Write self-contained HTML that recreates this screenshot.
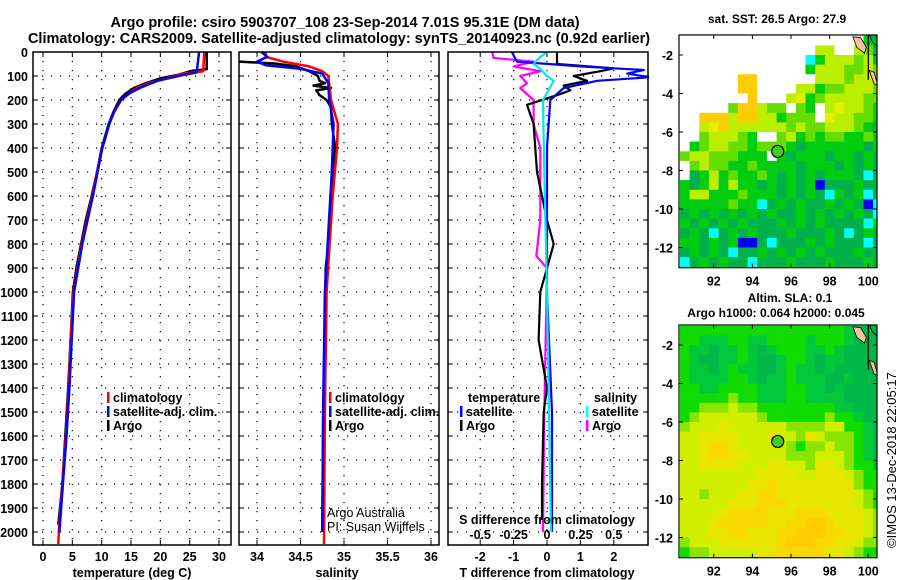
<!DOCTYPE html>
<html><head><meta charset="utf-8"><style>
html,body{margin:0;padding:0;background:#fff;}
svg{display:block;font-family:"Liberation Sans",sans-serif;}
.b{font-weight:bold;}
</style></head><body>
<svg id="c" width="900" height="580" viewBox="0 0 900 580" xmlns="http://www.w3.org/2000/svg">
<text x="345" y="27" text-anchor="middle" class="b" font-size="14.5">Argo profile: csiro 5903707_108 23-Sep-2014 7.01S 95.31E (DM data)</text>
<text x="339" y="43" text-anchor="middle" class="b" font-size="14.5">Climatology: CARS2009. Satellite-adjusted climatology: synTS_20140923.nc (0.92d earlier)</text>
<text x="777" y="23" text-anchor="middle" class="b" font-size="12">sat. SST: 26.5 Argo: 27.9</text>
<text x="790" y="302" text-anchor="middle" class="b" font-size="12">Altim. SLA: 0.1</text>
<text x="776" y="317" text-anchor="middle" class="b" font-size="12">Argo h1000: 0.064 h2000: 0.045</text>
<text transform="translate(896,548) rotate(-90)" font-size="13">©IMOS 13-Dec-2018 22:05:17</text>
<g id="g"></g>
</svg>
<script>
// depth axis
const depthTicks=[0,100,200,300,400,500,600,700,800,900,1000,1100,1200,1300,1400,1500,1600,1700,1800,1900,2000];
const tTicks=[0,5,10,15,20,25,30];
const sTicks=[34,34.5,35,35.5,36];
const dTTicks=[-2,-1,0,1,2];
const dSTicks=[-0.5,-0.25,0,0.25,0.5];
const dSTickLabels=["-0.5","-0.25","0","0.25","0.5"];
// temperature profiles [depth, T]
const tArgo=[[0,27.9],[72,27.9],[78,25.5],[95,23],[110,20],[130,17.5],[150,15.5],[175,14],[200,13],[250,12],[300,11.2],[400,10],[500,9.2],[600,8.3],[700,7.3],[800,6.5],[900,5.7],[1000,5.1],[1200,4.7],[1400,4.3],[1600,3.8],[1800,3.3],[1970,2.6]];
const tClim=[[0,27.5],[80,27.3],[90,24],[110,21],[130,18],[150,16],[200,13.3],[250,12.1],[300,11.3],[400,10.1],[500,9.2],[600,8.4],[800,6.6],[1000,5.2],[1200,4.7],[1400,4.4],[1600,3.9],[1800,3.3],[2000,2.7],[2050,2.6]];
const tSat=[[0,26.6],[85,26.2],[95,24],[120,19.5],[150,16.5],[175,14.5],[200,13.3],[250,12.1],[300,11.3],[400,10.1],[500,9.3],[600,8.5],[800,6.7],[1000,5.3],[1200,4.9],[1400,4.5],[1600,4],[1800,3.4],[2000,2.8]];
// salinity profiles [depth, S]
const sArgo=[[40,33.8],[48,34.2],[60,34.45],[80,34.6],[100,34.7],[120,34.72],[130,34.78],[140,34.65],[150,34.85],[160,34.68],[180,34.72],[200,34.8],[230,34.85],[300,34.86],[400,34.9],[500,34.87],[700,34.85],[900,34.79],[1200,34.78],[1600,34.76],[2000,34.75]];
const sClim=[[0,34.1],[20,34.1],[40,34.3],[60,34.6],[80,34.75],[100,34.82],[200,34.85],[300,34.93],[400,34.92],[600,34.87],[1000,34.8],[1500,34.78],[2050,34.77]];
const sSat=[[0,34.05],[20,34.12],[40,34.0],[55,34.1],[70,34.5],[90,34.75],[130,34.82],[200,34.83],[300,34.88],[500,34.86],[1000,34.78],[1500,34.76],[2000,34.75]];
// differences [depth, value]
const dTArgo=[[0,0.3],[50,0.3],[68,2.0],[80,1.6],[100,0.8],[120,1.2],[140,0.5],[160,0.7],[180,0.3],[220,-0.6],[300,-0.4],[500,-0.3],[700,0],[800,0.2],[900,0],[1000,-0.2],[1200,-0.25],[1400,0],[1500,-0.1],[1800,-0.15],[1950,-0.15]];
const dTSat=[[0,-1.05],[40,-0.9],[60,1],[75,2.9],[90,2.4],[105,3.1],[120,1.5],[150,0.5],[200,0.1],[400,0],[1000,0],[1500,0.15],[2000,0.15]];
const dSArgo=[[0,-0.41],[25,-0.4],[30,-0.3],[40,-0.1],[60,-0.25],[80,-0.05],[100,-0.2],[130,-0.15],[150,-0.2],[200,-0.1],[300,-0.1],[400,-0.05],[700,-0.05],[850,-0.08],[900,0],[1500,-0.02],[2000,-0.03]];
const dSSat=[[0,0],[20,-0.05],[50,-0.1],[70,-0.05],[100,0],[120,0.05],[150,0.02],[200,-0.03],[500,-0.02],[1000,0],[2000,0.03]];
// maps
const lonTicks=[92,94,96,98,100];
const latTicks=[-2,-4,-6,-8,-10,-12];
const sstGrid=["wwwwwwwwwwwwwwwwwwwgd","wwwwwwwwwwwwwwyywwyld","wwwwwwwwwwwwwcgyyylyd","wwwwwwwwwwwwwgyyyllyl","wwwwwwoowwwwwwyyylyyl","wwwwwwoowwwwyygllyyyl","wwwwwwwowwwyYglyyyyll","wwwwwlooyllwlgwyYyylg","wwoooyooyyglllwYyyllg","wwyYoyyyyyylyllyyylgd","wwlyyylgwwlyglgllgglg","wglyyllglllgdggggggdg","lyylllgggwgdgggdggdgd","wlyllgglggggdgggdgdgd","wdgyglgglgdgdgdgggdcd","gdgygyggdgdgdgbdddgdd","gyyggglgggdgdgdcgdgcd","ggggglggcdgdgddgdgdbc","dgdgdgdgdgddgdgdgdgdc","gdgdgdgdddgdgdgddddcg","dgdcdgdgdddgdddgdcdgd","ggdgdgbbdcdddgdgdddcd","dgdgdcddgdgdgdgdddgdd","cdgdgddcdddgdddgdddgd"];
const slaGrid=["gggggggggggggggggGddd","ggGGGggGGggggGgggGddd","gGGdGGgGdGgggGGgGdddd","gGddGGgGddGggGdGGdddd","gGGdGgGGddGgGGdGddddd","gGGGGggGdGGgGGGddGddd","ggGGggggGGGggGGdGdddd","ggggglggGGGggGGGGdddd","gglllyllggggggggGGddd","glyyyyyylgggggglggGdd","lyyyYyyyyyyllllyyggGd","yyYYYYyyyYyylYylllgGd","yyYooYyyyyylgllyllgGd","yyYooYYyyyylllyyylgGd","yyYYYYyyyYYyylYYylggd","yyyyyyyyYYYYyyYYYylgg","yyyyyyyYYoYYYYYYYYlgg","yylyyyYYooYYYYYYYYylg","yyyyyYYYoooYYYYYYYylg","yyyyYooooYYYoooYYYYyl","yyyYoooooYYooOOoYYYyl","yyyYYooYYYooOOOooYYyl","lyyyYYYYYYoOOOooYYyll","gllyyyyyYYoooooYYylgg"];
const argoLon=95.31, argoLat=-7.01;

const NS="http://www.w3.org/2000/svg";
const G=document.getElementById('g');
function mk(tag,attrs,parent){const e=document.createElementNS(NS,tag);for(const k in attrs)e.setAttribute(k,attrs[k]);(parent||G).appendChild(e);return e;}
function txt(x,y,s,size,anchor,bold,parent){const e=mk('text',{x:x,y:y,'font-size':size,'text-anchor':anchor||'start'},parent);if(bold)e.setAttribute('font-weight','bold');e.textContent=s;return e;}

const Y0=52, YPX=0.24, YB=545;
const yD=d=>Y0+d*YPX;
const panels=[{x0:33,x1:231},{x0:239,x1:439},{x0:448,x1:648}];
const xT=v=>43+v*5.867;
const xS=v=>257+(v-34)*87;
const xDT=v=>547+v*33.4;
const xDS=v=>547+v*133.6;

function frame(p,name,xticks,xf){
  const g=mk('g',{});
  
  
  depthTicks.forEach(d=>{if(d>0)mk('line',{x1:p.x0,x2:p.x1,y1:yD(d),y2:yD(d),stroke:'#000','stroke-width':1.2,'stroke-dasharray':'1.2 7.8'},g);
    mk('line',{x1:p.x0,x2:p.x0+5,y1:yD(d),y2:yD(d),stroke:'#000'},g);mk('line',{x1:p.x1-5,x2:p.x1,y1:yD(d),y2:yD(d),stroke:'#000'},g);});
  xticks.forEach(v=>{const x=xf(v);mk('line',{x1:x,x2:x,y1:Y0,y2:YB,stroke:'#000','stroke-width':1.2,'stroke-dasharray':'1.2 7.8'},g);
    mk('line',{x1:x,x2:x,y1:YB-5,y2:YB,stroke:'#000'},g);mk('line',{x1:x,x2:x,y1:Y0,y2:Y0+5,stroke:'#000'},g);});
  return g;
}
function line(pts,xf,color,name,w){
  const e=mk('polyline',{points:pts.map(p=>xf(p[1]).toFixed(1)+','+yD(p[0]).toFixed(1)).join(' '),fill:'none',stroke:color,'stroke-width':w||2.5,'stroke-linejoin':'round'});
  
  
}
function border(p){mk('rect',{x:p.x0,y:Y0,width:p.x1-p.x0,height:YB-Y0,fill:'none',stroke:'#000','stroke-width':1.5});}

depthTicks.forEach(d=>{const t=txt(28,yD(d)+5,String(d),12.5,'end',true);});

// panel 1
frame(panels[0],'temperature-grid',tTicks,xT);
line(tArgo,xT,'#000','argo-temperature-line');
line(tClim,xT,'#ff0000','climatology-temperature-line');
line(tSat,xT,'#0000ff','satellite-temperature-line');
border(panels[0]);
tTicks.forEach(v=>txt(xT(v),561,String(v),12.5,'middle',true));
txt(132,577,'temperature (deg C)',12.5,'middle',true);

// panel 2
frame(panels[1],'salinity-grid',sTicks,xS);
line(sArgo,xS,'#000','argo-salinity-line');
line(sClim,xS,'#ff0000','climatology-salinity-line');
line(sSat,xS,'#0000ff','satellite-salinity-line');
border(panels[1]);
sTicks.forEach(v=>txt(xS(v),561,String(v),12.5,'middle',true));
txt(337,577,'salinity',12.5,'middle',true);
txt(327,517,'Argo Australia',12.5,'start',false);
txt(327,531,'PI: Susan Wijffels',12.5,'start',false);

// panel 3
frame(panels[2],'difference-grid',dTTicks,xDT);
line(dSArgo,xDS,'#ff00ff','argo-salinity-difference-line',2.2);
line(dTArgo,xDT,'#000','argo-temperature-difference-line',2.2);
line(dTSat,xDT,'#0000ff','satellite-temperature-difference-line',2.2);
line(dSSat,xDS,'#00e8e8','satellite-salinity-difference-line',2.2);
mk('rect',{x:649,y:40,width:28,height:120,fill:'#fff'});
border(panels[2]);
dTTicks.forEach(v=>txt(xDT(v),561,String(v),12.5,'middle',true));
dSTicks.forEach((v,i)=>txt(xDS(v),539,dSTickLabels[i],12.5,'middle',true));
txt(547,524,'S difference from climatology',12.5,'middle',true);
txt(547,577,'T difference from climatology',12.5,'middle',true);

function leg(x,y,color,label,name){mk('rect',{x:x,y:y-10,width:2.5,height:11,fill:color});const t=txt(x+6,y,label,12.5,'start',true);}
leg(107,402,'#ff0000','climatology','legend-climatology');
leg(107,416,'#0000ff','satellite-adj. clim.','legend-satellite-adj');
leg(107,430,'#000','Argo','legend-argo');
leg(329,402,'#ff0000','climatology','legend2-climatology');
leg(329,416,'#0000ff','satellite-adj. clim.','legend2-satellite-adj');
leg(329,430,'#000','Argo','legend2-argo');
txt(468,402,'temperature',12.5,'start',true);
leg(460,416,'#0000ff','satellite','legend-t-satellite');
leg(460,430,'#000','Argo','legend-t-argo');
txt(594,402,'salinity',12.5,'start',true);
leg(586,416,'#00ffff','satellite','legend-s-satellite');
leg(586,430,'#ff00ff','Argo','legend-s-argo');

// maps
const MX0=679,MX1=877,LON0=90.2,LON1=100.45;
const mx=lon=>MX0+(lon-LON0)*(MX1-MX0)/(LON1-LON0);
const sstCol={w:'#ffffff',d:'#00b04a',g:'#00cc10',l:'#66dd00',y:'#bbee00',Y:'#e6ee00',o:'#ffcc00',c:'#00ffff',b:'#0000ff'};
const slaCol={d:'#00b848',G:'#00c83a',g:'#10dc00',l:'#88e400',y:'#d0ee00',Y:'#e8e600',o:'#f8d800',O:'#ffcc00'};
function map(top,grid,cols,name){
  const my=lat=>top+20+(-2-lat)*19.25;
  const bot=my(-13.05), tp=my(-0.96);
  const g=mk('g',{});
  
  
  const cid=name+'-clip';const c=mk('clipPath',{id:cid},g);mk('rect',{x:MX0,y:tp,width:MX1-MX0,height:bot-tp},c);
  const cg=mk('g',{'clip-path':'url(#'+cid+')'},g);
  grid.forEach((row,r)=>{for(let i=0;i<row.length;i++){
    const lon=90.25+i*0.5, lat=-1-r*0.5;
    const x=mx(lon), y=my(lat);
    const cell=mk('rect',{x:x.toFixed(1),y:y.toFixed(1),width:(mx(lon+0.5)-x+0.3).toFixed(1),height:(my(lat-0.5)-y+0.3).toFixed(1),fill:cols[row[i]]||'#fff'},cg);
    
    
  }});
  mk('path',{d:`M${mx(99.2)},${my(-1.05)} L${mx(99.6)},${my(-1.1)} L${mx(99.9)},${my(-1.6)} L${mx(99.8)},${my(-1.9)} L${mx(99.4)},${my(-1.6)} Z`,fill:'#f2c49a',stroke:'#000','stroke-width':0.8},cg);
  mk('path',{d:`M${mx(100.05)},${my(-2.8)} L${mx(100.3)},${my(-2.9)} L${mx(100.5)},${my(-3.6)} L${mx(100.3)},${my(-3.5)} Z`,fill:'#f2c49a',stroke:'#000','stroke-width':0.8},cg);
  mk('path',{d:`M${mx(100.05)},${my(-0.96)} L${mx(100.5)},${my(-0.96)} L${mx(100.5)},${my(-1.6)} L${mx(100.2)},${my(-1.3)} Z`,fill:'#00b04a',stroke:'#000','stroke-width':0.8},cg);
  mk('line',{x1:mx(100),x2:mx(100),y1:tp,y2:my(-3.3),stroke:'#000','stroke-width':1.2},cg);
  mk('rect',{x:MX0,y:tp,width:MX1-MX0,height:bot-tp,fill:'none',stroke:'#000','stroke-width':1.2},g);
  lonTicks.forEach(v=>{mk('line',{x1:mx(v),x2:mx(v),y1:bot-4,y2:bot,stroke:'#000'},g);mk('line',{x1:mx(v),x2:mx(v),y1:tp,y2:tp+4,stroke:'#000'},g);txt(mx(v),bot+18,String(v),12.5,'middle',true,g);});
  latTicks.forEach(v=>{mk('line',{x1:MX0,x2:MX0+4,y1:my(v),y2:my(v),stroke:'#000'},g);mk('line',{x1:MX1-4,x2:MX1,y1:my(v),y2:my(v),stroke:'#000'},g);txt(MX0-6,my(v)+5,String(v),12.5,'end',true,g);});
  const m=mk('circle',{cx:mx(argoLon),cy:my(argoLat),r:6,fill:'#44cc22',stroke:'#000','stroke-width':1.2},g);
  
  
}
map(35,sstGrid,sstCol,'sst-map');
map(325,slaGrid,slaCol,'sla-map');
</script>
</body></html>
